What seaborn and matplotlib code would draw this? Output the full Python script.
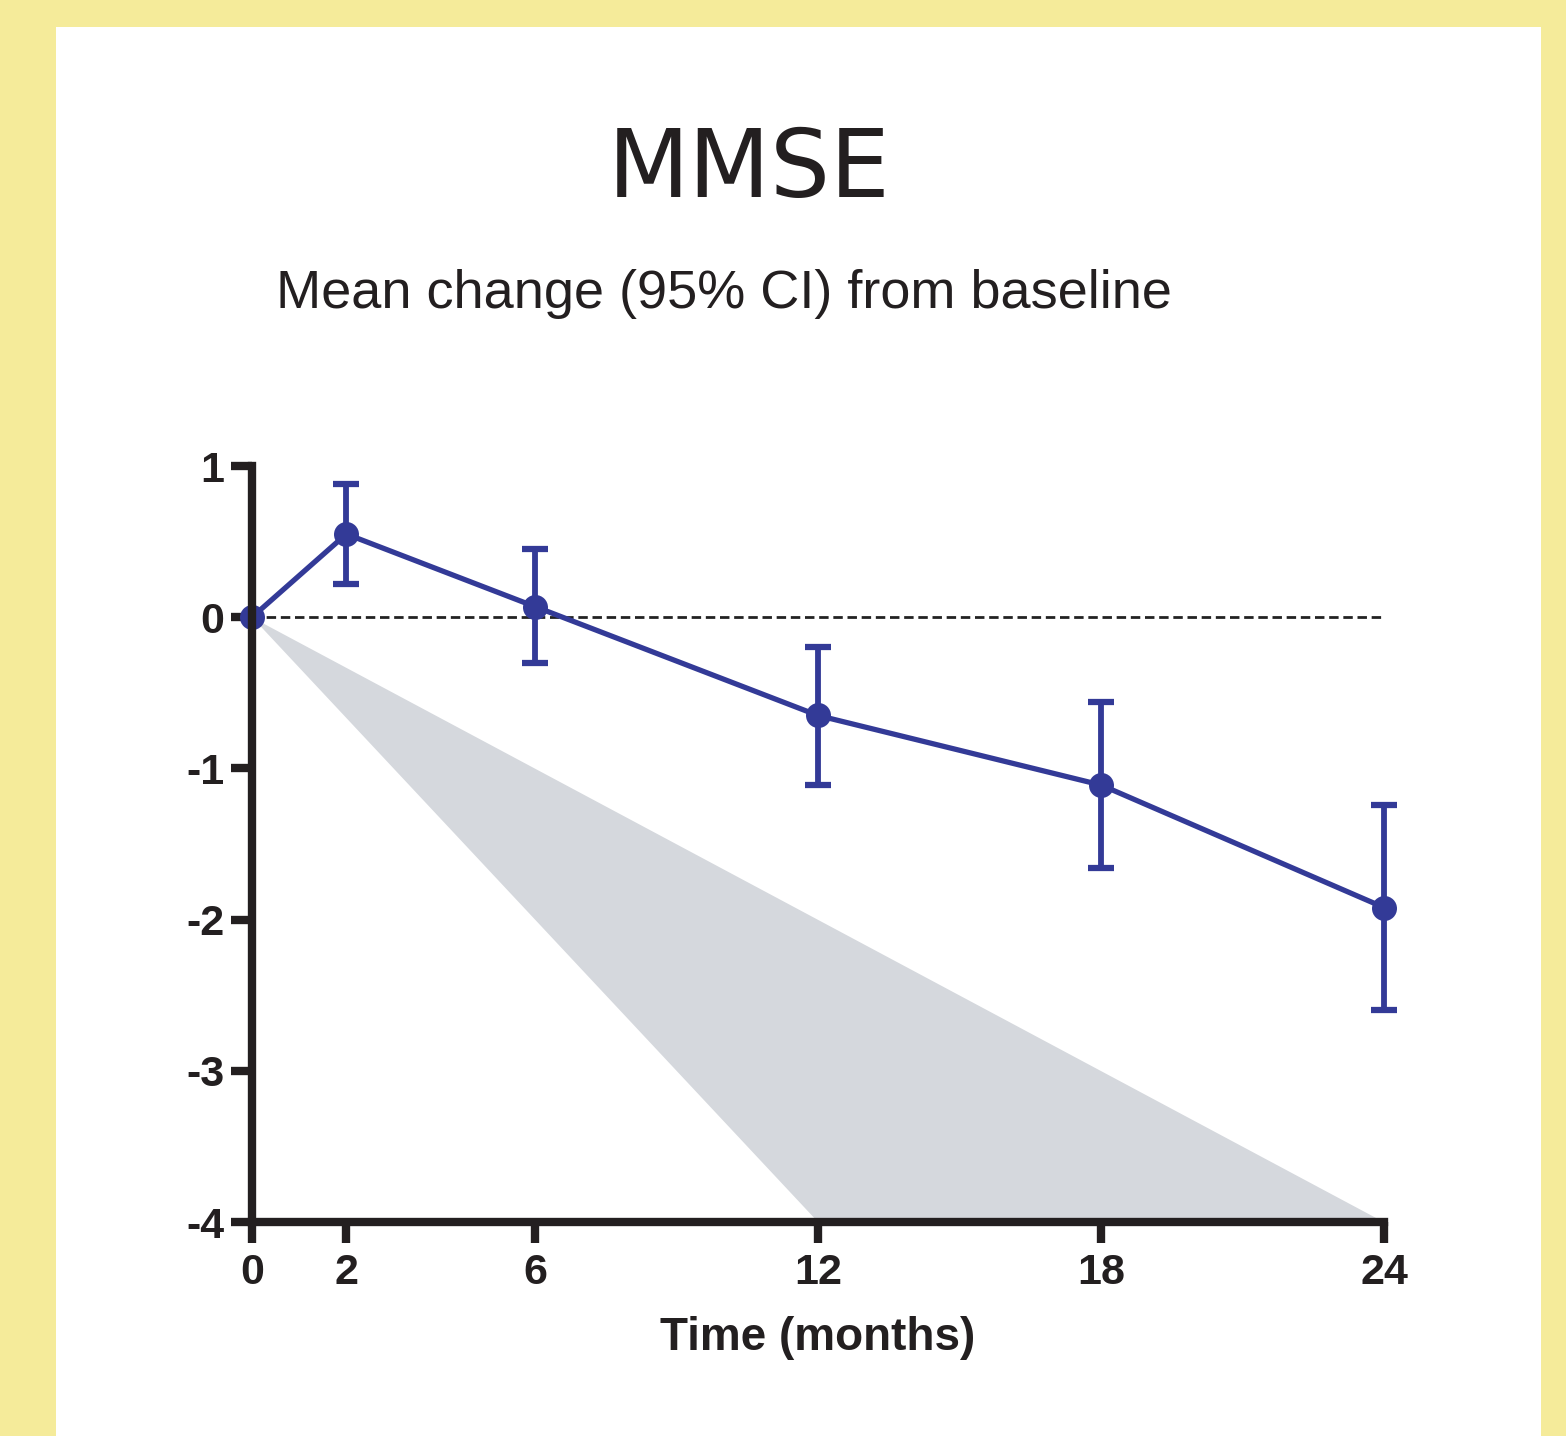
import matplotlib
matplotlib.use("Agg")
import matplotlib.pyplot as plt
import seaborn as sns
import pandas as pd
from matplotlib.patches import Rectangle

# ---- data ----
months = [0, 2, 6, 12, 18, 24]
mean_change = [0.0, 0.55, 0.07, -0.65, -1.11, -1.92]
ci_low = [0.0, 0.22, -0.30, -1.11, -1.66, -2.60]
ci_high = [0.0, 0.88, 0.45, -0.20, -0.56, -1.24]
band_x = [0, 12, 24]
band_upper = [0, -2, -4]
band_lower = [0, -4, -4]
xticks = [0, 2, 6, 12, 18, 24]
yticks = [1, 0, -1, -2, -3, -4]

title = "MMSE"
subtitle = "Mean change (95% CI) from baseline"
xlabel = "Time (months)"

BLUE = "#333A97"
YELLOW = "#F5EB9A"
GRAY = "#D5D8DD"
INK = "#231F20"

sns.set_theme(style="white")
plt.rcParams['font.family'] = ['Liberation Sans', 'DejaVu Sans']

fig = plt.figure(figsize=(15.66, 14.36), dpi=100, facecolor=YELLOW)
bg = Rectangle((56/1566, 0), (1541-56)/1566, 1 - 27/1436,
               transform=fig.transFigure, facecolor="white",
               edgecolor="none", zorder=-10)
fig.add_artist(bg)

ax = fig.add_axes([252/1566, 1 - 1222/1436, (1384-252)/1566, (1222-466)/1436])
ax.set_facecolor("none")
ax.set_zorder(5)

df = pd.DataFrame({"month": months, "change": mean_change})

ax.fill_between(band_x, band_lower, band_upper, color=GRAY, linewidth=0, zorder=1)
ax.plot([xticks[0], xticks[-1]], [0, 0], color="#222222", lw=2.0,
        dashes=(3.4, 1.7), zorder=1.5)

yerr = [[m - l for m, l in zip(mean_change, ci_low)],
        [h - m for m, h in zip(mean_change, ci_high)]]
ax.errorbar(months[1:], mean_change[1:],
            yerr=[yerr[0][1:], yerr[1][1:]], fmt="none",
            ecolor=BLUE, elinewidth=4.2, capsize=9.5, capthick=4.5, zorder=2.1,
            clip_on=False)
sns.lineplot(data=df, x="month", y="change", ax=ax, color=BLUE, lw=3.8,
             marker="o", markersize=18, markeredgewidth=0, zorder=2.2,
             clip_on=False)

ax.set_xlim(0, 24)
ax.set_ylim(-4, 1)
ax.set_xticks(xticks)
ax.set_yticks(yticks)
ax.set_xticklabels([str(t) for t in xticks], fontsize=31, fontweight="bold",
                   color=INK)
ax.set_yticklabels([str(t) for t in yticks], fontsize=31, fontweight="bold",
                   color=INK)
ax.tick_params(axis="both", direction="out", width=6, length=15, color=INK,
               bottom=True, left=True)
ax.tick_params(axis="x", pad=7.5)
ax.tick_params(axis="y", pad=5)
for s in ["top", "right"]:
    ax.spines[s].set_visible(False)
for s in ["left", "bottom"]:
    ax.spines[s].set_linewidth(6)
    ax.spines[s].set_color(INK)
ax.set_xlabel(xlabel, fontsize=33, fontweight="bold", color=INK, labelpad=16.5)
ax.set_ylabel("")

fig.text(749/1566, 1 - 171/1436, title, fontsize=68, family="DejaVu Sans",
         ha="center", va="center", color=INK)
fig.text(724/1566, 1 - 294/1436, subtitle, fontsize=39,
         ha="center", va="center", color=INK)

fig.savefig("out.png", dpi=100, facecolor=YELLOW)
